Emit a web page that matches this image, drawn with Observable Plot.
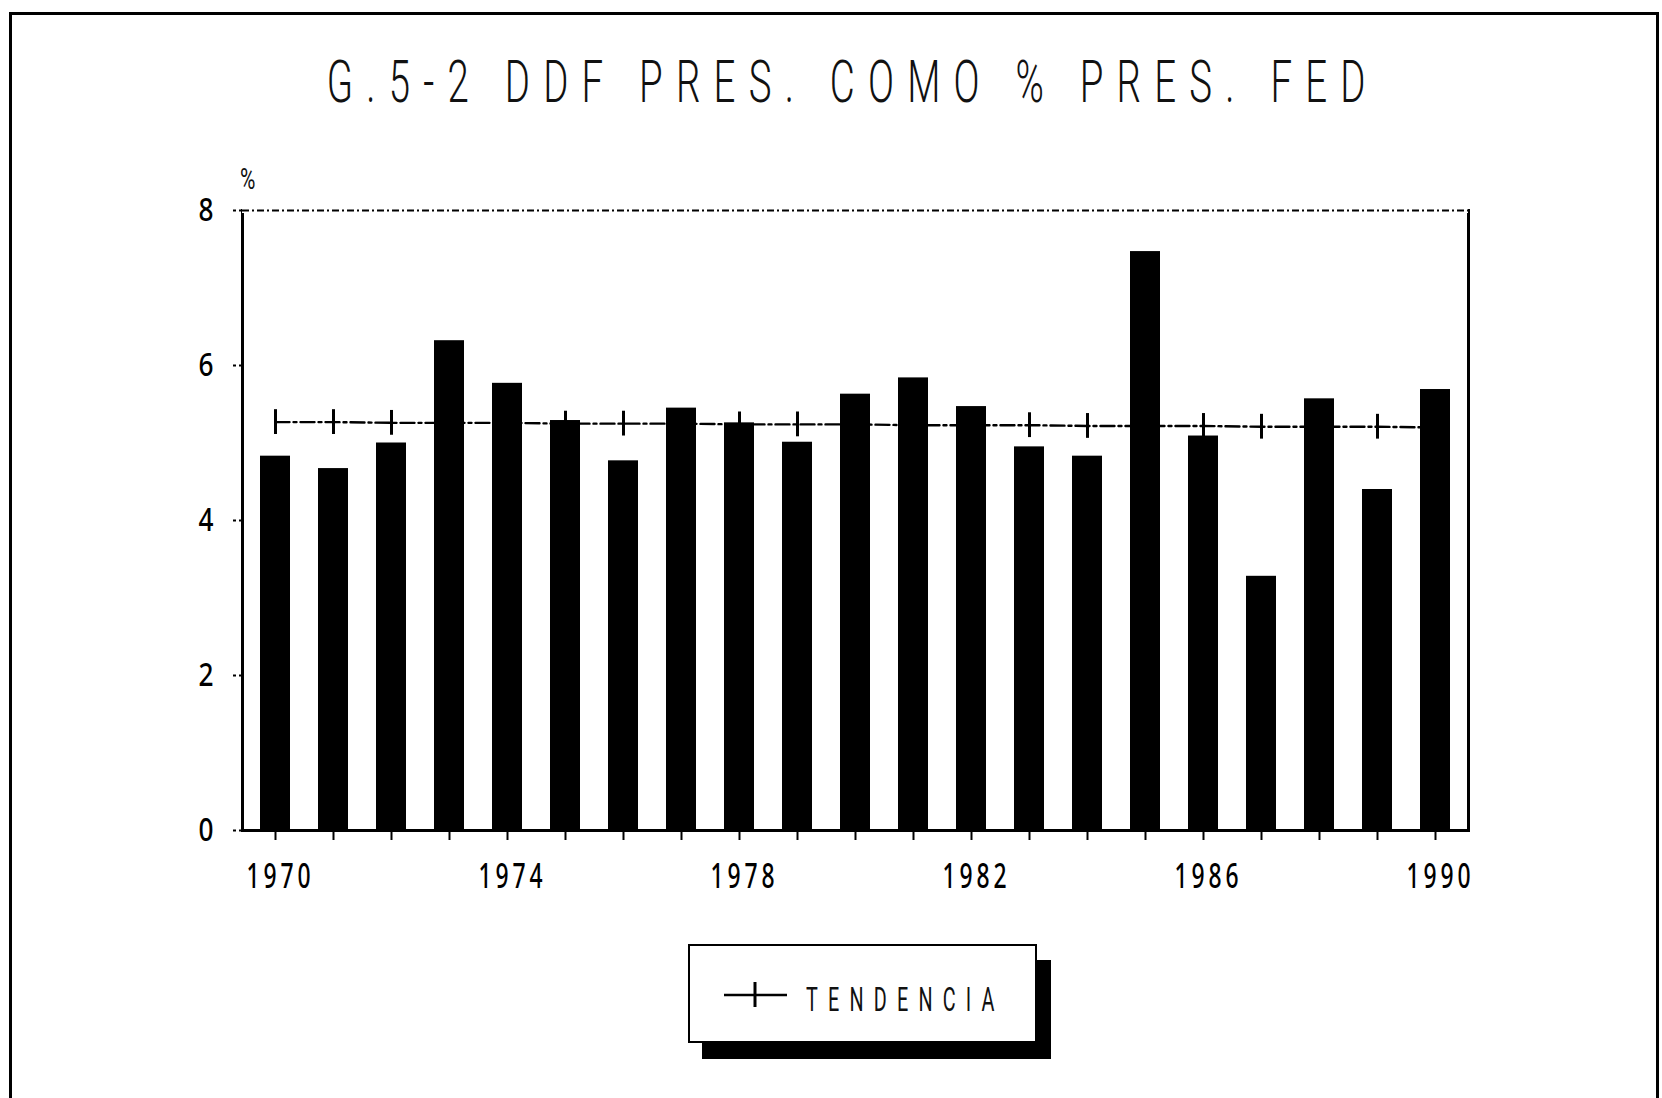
<!DOCTYPE html>
<html>
<head>
<meta charset="utf-8">
<script src="https://cdn.jsdelivr.net/npm/d3@7"></script>
<script src="https://cdn.jsdelivr.net/npm/@observablehq/plot@0.6"></script>
<style>
  html, body { margin: 0; padding: 0; background: #fff; width: 1662px; height: 1098px; overflow: hidden; }
  #page { position: relative; width: 1662px; height: 1098px; font-family: Roboto, "DejaVu Sans", sans-serif; }
  #border { position: absolute; left: 9px; top: 12px; width: 1644px; height: 1200px; border: 3px solid #000; }
  #title { position: absolute; left: 22px; top: 52px; width: 1662px; text-align: center; line-height: 1; }
  #title span { display: inline-block; font-size: 60px; font-weight: 300; letter-spacing: 20.7px; transform: scaleX(0.64); transform-origin: center; white-space: nowrap; color: #111; }
  #unit { position: absolute; left: 240px; top: 164px; font-size: 30px; line-height: 1; color: #111; transform: scaleX(0.7); transform-origin: left; }
  #chart { position: absolute; left: 0; top: 0; }
  #legend { position: absolute; left: 688px; top: 944px; width: 349px; height: 99px; box-sizing: border-box; border: 2px solid #000; background: #fff; box-shadow: 14px 16px 0 #000; }
  #legend svg { position: absolute; left: 32px; top: 34px; }
  #legend .lab { position: absolute; left: 116px; top: 37px; font-size: 33px; line-height: 1; font-weight: 400; letter-spacing: 17px; transform: scaleX(0.6); transform-origin: left; white-space: nowrap; color: #111; }
</style>
</head>
<body>
<div id="page">
  <div id="border"></div>
  <div id="title"><span>G.5-2 DDF PRES. COMO % PRES. FED</span></div>
  <div id="chart"></div>
  <div id="unit">%</div>
  <div id="legend">
    <svg width="70" height="30"><line x1="2" y1="15" x2="65" y2="15" stroke="#000" stroke-width="2.5"/><line x1="33" y1="2" x2="33" y2="27" stroke="#000" stroke-width="3"/></svg>
    <div class="lab">TENDENCIA</div>
  </div>
</div>
<script>
const years = [1970,1971,1972,1973,1974,1975,1976,1977,1978,1979,1980,1981,1982,1983,1984,1985,1986,1987,1988,1989,1990];
const values = [4.83,4.67,5.00,6.32,5.77,5.29,4.77,5.45,5.26,5.01,5.63,5.84,5.47,4.95,4.83,7.47,5.09,3.28,5.57,4.40,5.69];
const trend = [5.27,5.27,5.26,5.26,5.26,5.25,5.25,5.25,5.24,5.24,5.24,5.23,5.23,5.23,5.22,5.22,5.22,5.21,5.21,5.21,5.20];
const yTicks = [0,2,4,6,8];
const labeledYears = [1970,1974,1978,1982,1986,1990];

const data = years.map((year, i) => ({year, value: values[i], trend: trend[i]}));

const chart = Plot.plot({
  width: 1662,
  height: 900,
  marginTop: 210,
  marginBottom: 70,
  marginLeft: 242,
  marginRight: 194,
  style: {background: "transparent", color: "#000"},
  x: {type: "band", domain: years, paddingInner: 0.485, paddingOuter: 0.26},
  y: {domain: [0, 8]},
  marks: [
    Plot.lineY(data, {x: "year", y: "trend", stroke: "#000", strokeWidth: 2.4, strokeDasharray: "14,4,3,4"}),
    Plot.ruleX(data, {x: "year", y1: d => d.trend - 0.16, y2: d => d.trend + 0.16, stroke: "#000", strokeWidth: 3}),
    Plot.barY(data, {x: "year", y: "value", fill: "#000"}),
    Plot.frame({stroke: "#000", strokeWidth: 3}),
    Plot.ruleY([8], {stroke: "#fff", strokeWidth: 5}),
    Plot.ruleY([8], {stroke: "#000", strokeWidth: 1.8, strokeDasharray: "7,3,2,3"}),
    Plot.axisY({ticks: yTicks, tickSize: 12, tickPadding: 17, fontSize: 32, fontWeight: 500, label: null, strokeWidth: 2, strokeDasharray: "3,3"}),
    Plot.axisX({tickSize: 10, tickPadding: 23, fontSize: 35, fontWeight: 500, label: null, strokeWidth: 2,
      tickFormat: d => labeledYears.includes(d) ? String(d) : ""})
  ]
});
document.getElementById("chart").appendChild(chart);

// narrow, spaced plotter-style numerals
d3.select(chart).selectAll("text").each(function() {
  const t = this.textContent.trim();
  if (/^\d{4}$/.test(t)) {
    d3.select(this).attr("textLength", 68).attr("lengthAdjust", "spacingAndGlyphs").attr("dx", 5).style("letter-spacing", "6px");
  } else if (/^\d$/.test(t)) {
    d3.select(this).attr("textLength", 15).attr("lengthAdjust", "spacingAndGlyphs");
  }
});
</script>
</body>
</html>
